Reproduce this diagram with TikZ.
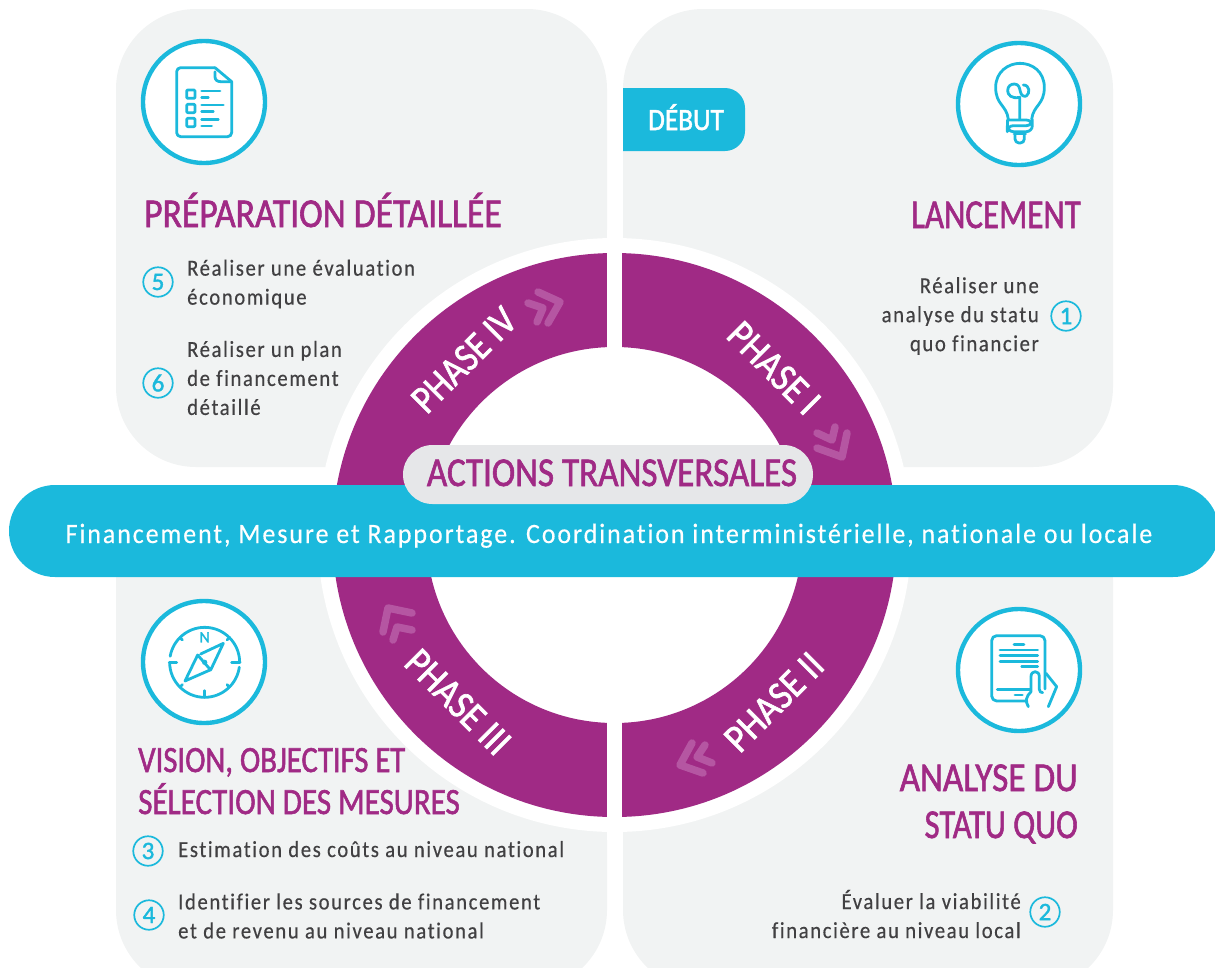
\documentclass[tikz,border=0pt]{standalone}
\usepackage{fontspec}
\setmainfont{Carlito}
\newfontfamily\headfont[FakeBold=1.6]{Carlito}
\newfontfamily\bodyfont[LetterSpace=7,FakeStretch=0.9,FakeBold=0.4,Ligatures=NoCommon]{Carlito}
\newfontfamily\bandfont[LetterSpace=7,FakeStretch=0.925,FakeBold=0.4,Ligatures=NoCommon]{Carlito}
\definecolor{panelgray}{HTML}{F1F3F3}
\definecolor{phasepurple}{HTML}{A02A85}
\definecolor{chevronpurple}{HTML}{B556A2}
\definecolor{bandblue}{HTML}{1BB9DC}
\definecolor{pillgray}{HTML}{E6E7E9}
\definecolor{bodygray}{HTML}{414042}
\tikzset{
  panel/.style={fill=panelgray,rounded corners=80},
  icon/.style={circle,draw=bandblue,line width=4.4,fill=white,minimum size=122,inner sep=0},
  iconline/.style={draw=bandblue,line width=2.8,line cap=round,line join=round},
  badge/.style={circle,draw=bandblue,line width=1.7,minimum size=29.5,inner sep=0,text=bandblue,font=\headfont\fontsize{25}{25}\selectfont},
  titlelabel/.style={text=phasepurple,inner sep=0,font=\headfont\fontsize{41}{41}\selectfont},
  sublabel/.style={text=phasepurple,inner sep=0,font=\headfont\fontsize{37}{37}\selectfont},
  bodylabel/.style={text=bodygray,inner sep=0,font=\bodyfont\fontsize{23}{29}\selectfont},
  phaselabel/.style={text=white,inner sep=0,font=\headfont\fontsize{40}{40}\selectfont},
  chevron/.style={draw=chevronpurple,line width=7.5,line cap=round,line join=round},
}
\newcommand{\squeezed}[2]{\scalebox{#1}[1]{#2}}
\begin{document}
\begin{tikzpicture}[x=1pt,y=-1pt]
        \useasboundingbox (0,0) rectangle (1215,967);
        %% grey panels
        \fill[panel] (116,9) rectangle (607,467);
        \fill[panel] (623,9) rectangle (1113,467);
        \fill[panel] (116,500) rectangle (607,990);
        \fill[panel] (623,500) rectangle (1113,990);
        %% ring
        \coordinate (C) at (614.5,535);
        \fill[white] (C) circle (297);
        \fill[phasepurple,even odd rule] (C) circle (282) (C) circle (188);
        \fill[white] (607,230) rectangle (622,840);
        %% phase labels
        \node[phaselabel,rotate=45] (phaseIV) at (464,360) {\squeezed{0.88}{PHASE IV}};
        \node[phaselabel,rotate=-45] (phaseI) at (774,368) {\squeezed{0.9}{PHASE I}};
        \node[phaselabel,rotate=45] (phaseII) at (774,702) {\squeezed{0.9}{PHASE II}};
        \node[phaselabel,rotate=-45] (phaseIII) at (458,702) {\squeezed{0.9}{PHASE III}};
        %% chevrons
        \draw[chevron] (538,292) -- (560,302) -- (548,323);
        \draw[chevron] (528,303) -- (543,308) -- (537,322);
        \draw[chevron] (817,448) -- (842,457) -- (847,433);
        \draw[chevron] (817,433) -- (832,440) -- (835,427);
        \draw[chevron] (703,773) -- (680,765) -- (692,743);
        \draw[chevron] (712,763) -- (697,757) -- (705,745);
        \draw[chevron] (412,613) -- (388,608) -- (383,632);
        \draw[chevron] (412,630) -- (397,627) -- (393,640);
        %% band and pill
        \fill[bandblue,rounded corners=46] (9,485) rectangle (1219,577);
        \node[text=white,inner sep=0,anchor=base,font=\bandfont\fontsize{28}{28}\selectfont] (bandtext) at (609,543) {Financement, Mesure et Rapportage. Coordination interministérielle, nationale ou locale};
        \fill[pillgray,rounded corners=29.5] (403,445) rectangle (813,504);
        \node[titlelabel,anchor=base] (actions) at (612,486) {\squeezed{0.858}{ACTIONS TRANSVERSALES}};
        %% debut tab
        \fill[bandblue] (623,88) [rounded corners=20] -- (745,88) -- (745,151) [sharp corners] -- (623,151) -- cycle;
        \node[phaselabel,anchor=base,font=\headfont\fontsize{31}{31}\selectfont] (debut) at (686,130) {\squeezed{0.88}{DÉBUT}};
        %% icon circles
        \node[icon] (iconDoc) at (204,102) {};
        \node[icon] (iconBulb) at (1019,104) {};
        \node[icon] (iconCompass) at (204,662) {};
        \node[icon] (iconTablet) at (1019,670) {};
        %% document icon
        \begin{scope}[shift={(130,30)},x=0.3333pt,y=-0.3333pt]
            \draw[iconline,rounded corners=4] (255,113) -- (140,113) -- (140,320) -- (305,320) -- (305,155);
            \draw[iconline] (255,113) -- (305,155);
            \draw[iconline] (255,125) -- (255,140) .. controls (255,150) and (262,155) .. (272,155) -- (305,155);
            \foreach \y in {180,223,265} {
                \draw[iconline,rounded corners=1] (170,\y) rectangle (195,\y+25);
            }
            \draw[iconline] (215,183) -- (270,183) (215,203) -- (235,203);
            \draw[iconline] (215,225) -- (280,225) (215,245) -- (250,245);
            \draw[iconline] (215,268) -- (265,268) (215,288) -- (245,288);
        \end{scope}
        %% bulb icon
        \begin{scope}[shift={(945,30)},x=0.3333pt,y=-0.3333pt]
            \draw[iconline] (190,268) .. controls (185,225) and (152,225) .. (152,172) .. controls (152,125) and (190,100) .. (225,100) .. controls (262,100) and (298,125) .. (298,172) .. controls (298,225) and (265,225) .. (260,268);
            \draw[iconline] (224,268) -- (224,202) .. controls (200,207) and (188,195) .. (188,182) .. controls (188,168) and (198,162) .. (208,162) .. controls (222,162) and (224,175) .. (226,185) .. controls (228,198) and (240,202) .. (245,197) .. controls (255,190) and (255,165) .. (235,165);
            \draw[iconline,rounded corners=6] (190,270) -- (262,270) -- (262,287) -- (187,287) -- (187,305) -- (262,305) -- (262,287);
            \draw[iconline,rounded corners=6] (187,270) -- (187,287);
            \draw[iconline] (207,312) -- (242,312);
            \draw[iconline,rounded corners=4] (210,316) -- (210,339) -- (238,339) -- (238,316);
        \end{scope}
        %% compass icon
        \begin{scope}[shift={(130,590)},x=0.3333pt,y=-0.3333pt]
            \coordinate (compassC) at (224,217);
            \draw[iconline] (compassC) ++(360:105) arc[start angle=360,end angle=190,radius=105];
            \draw[iconline] (compassC) ++(180:105) arc[start angle=180,end angle=8,radius=105];
            \draw[iconline] (118,217) -- (140,217) (305,217) -- (330,217) (224,302) -- (224,322);
            \draw[iconline] (150,143) -- (157,150) (298,143) -- (291,150) (150,291) -- (157,284) (298,291) -- (291,284);
            \node[inner sep=0,text=bandblue,font=\headfont\fontsize{16}{16}\selectfont] (compassN) at (224,142) {N};
            \draw[iconline] (212,192) -- (280,160) -- (242,240) -- (203,195) -- (165,273) -- (240,240);
            \fill[bandblue] (compassC) circle (8);
        \end{scope}
        %% tablet icon
        \begin{scope}[shift={(945,595)},x=0.3333pt,y=-0.3333pt]
            \draw[iconline,rounded corners=5] (243,318) -- (140,318) -- (140,122) -- (300,122) -- (300,282);
            \draw[iconline] (207,148) -- (237,148);
            \foreach \y in {165,182,199} {
                \draw[iconline] (165,\y) -- (278,\y);
            }
            \draw[iconline] (230,215) -- (278,215);
            \draw[iconline] (157,283) -- (255,283) (210,300) -- (232,300);
            \draw[iconline] (250,335) .. controls (240,318) and (243,305) .. (258,290) -- (258,245) .. controls (258,225) and (283,225) .. (283,245) -- (283,283) .. controls (283,290) and (288,293) .. (293,293);
            \draw[iconline] (303,235) -- (335,275) -- (310,335);
        \end{scope}
        %% titles
        \node[titlelabel,anchor=base west] (prep) at (144,227) {\squeezed{0.868}{PRÉPARATION DÉTAILLÉE}};
        \node[titlelabel,anchor=base east] (lance) at (1081,228) {\squeezed{0.805}{LANCEMENT}};
        \node[sublabel,anchor=base west] (vision) at (138,772) {\squeezed{0.83}{VISION, OBJECTIFS ET}};
        \node[sublabel,anchor=base west] (select) at (138,814) {\squeezed{0.84}{SÉLECTION DES MESURES}};
        \node[titlelabel,anchor=base east] (analyse) at (1078,791) {\squeezed{0.86}{ANALYSE DU}};
        \node[titlelabel,anchor=base east] (statu) at (1078,838) {\squeezed{0.796}{STATU QUO}};
        %% badges
        \node[badge] (five) at (158,282) {5};
        \node[badge] (six) at (158,383) {6};
        \node[badge] (one) at (1066,316) {1};
        \node[badge] (two) at (1045,912) {2};
        \node[badge] (three) at (148,851) {3};
        \node[badge] (four) at (149,915) {4};
        %% body texts
        \node[bodylabel,align=left,anchor=west] (txtfive) at (187,284) {Réaliser une évaluation\\économique};
        \node[bodylabel,align=left,anchor=west] (txtsix) at (187,378) {Réaliser un plan\\de financement\\détaillé};
        \node[bodylabel,align=right,anchor=east] (txtone) at (1039,316) {Réaliser une\\analyse du statu\\quo financier};
        \node[bodylabel,align=left,anchor=base west] (txtthree) at (178,857) {Estimation des coûts au niveau national};
        \node[bodylabel,align=left,anchor=west] (txtfour) at (178,916) {Identifier les sources de financement\\et de revenu au niveau national};
        \node[bodylabel,align=right,anchor=east] (txttwo) at (1021,914) {Évaluer la viabilité\\financière au niveau local};
    \end{tikzpicture}
\end{document}
